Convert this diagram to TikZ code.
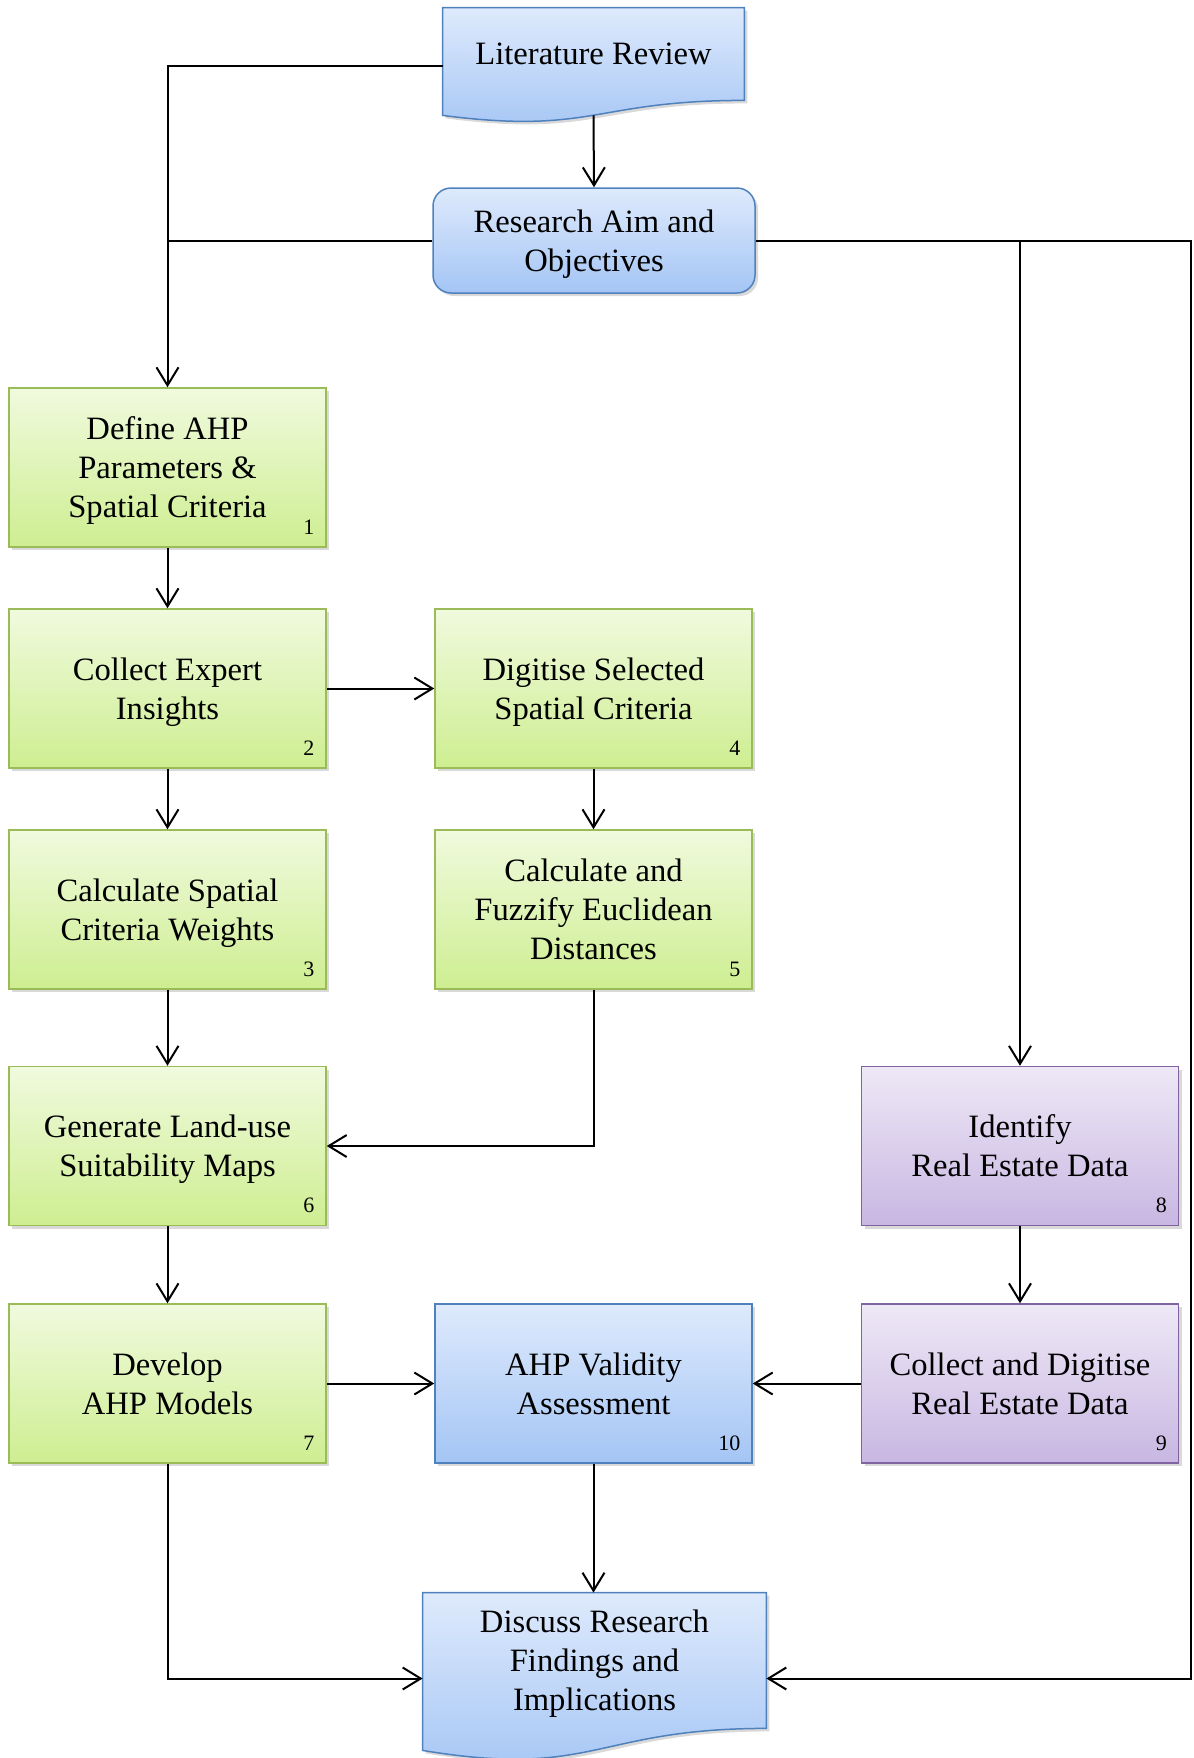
\documentclass[tikz,border=0pt]{standalone}
\usepackage{fontspec}
\setmainfont{Liberation Serif}
\usetikzlibrary{arrows.meta,shadows,backgrounds,calc}

\definecolor{greenline}{RGB}{155,187,89}
\definecolor{greentop}{RGB}{240,250,222}
\definecolor{greenbot}{RGB}{206,238,145}
\definecolor{blueline}{RGB}{79,129,189}
\definecolor{bluetop}{RGB}{222,234,252}
\definecolor{bluebot}{RGB}{164,197,245}
\definecolor{purpleline}{RGB}{128,100,162}
\definecolor{purpletop}{RGB}{238,232,246}
\definecolor{purplebot}{RGB}{200,183,226}

\tikzset{
	boxtext/.style={align=center, inner sep=0pt, text depth=0pt, font=\fontsize{16.3}{19.5}\selectfont},
	shade/.style={line width=0.75pt, drop shadow={shadow xshift=1.5pt, shadow yshift=-1.5pt, opacity=0.3}},
	box/.style={rectangle, boxtext, shade, draw, minimum width=158.5pt, minimum height=79.5pt},
	greenbox/.style={box, draw=greenline, top color=greentop, bottom color=greenbot},
	bluebox/.style={box, draw=blueline, top color=bluetop, bottom color=bluebot},
	purplebox/.style={box, draw=purpleline, top color=purpletop, bottom color=purplebot},
	bluewave/.style={shade, draw=blueline, top color=bluetop, bottom color=bluebot},
	numlabel/.style={anchor=south east, inner sep=0pt, xshift=-6pt, yshift=6.5pt, font=\fontsize{11}{13}\selectfont},
	link/.style={line width=1pt, -{Straight Barb[length=9pt,width=11pt]}},
	plain/.style={line width=1pt}
}

% wavy bottom of a document shape: node, drop at the left end
\newcommand{\docwave}[2]{%
	\path[bluewave] (#1.north west) -- (#1.north east) -- (#1.south east)
		.. controls (#1.south) and ($(#1.south)+(0,#2*2.3)$) .. ($(#1.south west)+(0,#2)$) -- cycle;}

\begin{document}
\begin{tikzpicture}[x=0.5pt,y=-0.5pt]
	\useasboundingbox (0,0) rectangle (1194,1758);

	% documents and aim
	\node (lit) [boxtext, minimum width=150.5pt, minimum height=46pt] at (593.5,54) {Literature Review};
	\node (disc) [boxtext, minimum width=171.5pt, minimum height=67.5pt] at (594.5,1660.5) {Discuss Research\\Findings and\\Implications};
	\begin{scope}[on background layer]
		\docwave{lit}{15}
		\docwave{disc}{22}
	\end{scope}
	\node (res) [bluebox, rounded corners=9pt, minimum width=161pt, minimum height=52.5pt] at (594,240.5) {Research Aim and\\Objectives};

	% steps
	\node (b1) [greenbox, label={[numlabel]south east:1}] at (167.5,467.5) {Define AHP\\Parameters \&\\Spatial Criteria};
	\node (b2) [greenbox, label={[numlabel]south east:2}] at (167.5,688.5) {Collect Expert\\Insights};
	\node (b3) [greenbox, label={[numlabel]south east:3}] at (167.5,909.5) {Calculate Spatial\\Criteria Weights};
	\node (b4) [greenbox, label={[numlabel]south east:4}] at (593.5,688.5) {Digitise Selected\\Spatial Criteria};
	\node (b5) [greenbox, label={[numlabel]south east:5}] at (593.5,909.5) {Calculate and\\Fuzzify Euclidean\\Distances};
	\node (b6) [greenbox, label={[numlabel]south east:6}] at (167.5,1146) {Generate Land-use\\Suitability Maps};
	\node (b7) [greenbox, label={[numlabel]south east:7}] at (167.5,1383.5) {Develop\\AHP Models};
	\node (b8) [purplebox, label={[numlabel]south east:8}] at (1020,1146) {Identify\\Real Estate Data};
	\node (b9) [purplebox, label={[numlabel]south east:9}] at (1020,1383.5) {Collect and Digitise\\Real Estate Data};
	\node (b10) [bluebox, label={[numlabel]south east:10}] at (593.5,1383.5) {AHP Validity\\Assessment};

	\coordinate (rim) at (1191,240.5);

	% connectors
	\draw[link] ($(lit.south)+(0,15)$) -- (res.north);
	\draw[link] ($(lit.west)+(0,12)$) -| (b1.north);
	\draw[plain] (res.west) -- (res.west -| b1.north);
	\draw[link] (res.east) -| (b8.north);
	\draw[link] (res.east) -- (rim) |- ($(disc.east)+(0,18)$);
	\draw[link] (b1) -- (b2);
	\draw[link] (b2) -- (b3);
	\draw[link] (b2) -- (b4);
	\draw[link] (b4) -- (b5);
	\draw[link] (b3) -- (b6);
	\draw[link] (b5.south) |- (b6.east);
	\draw[link] (b6) -- (b7);
	\draw[link] (b7) -- (b10);
	\draw[link] (b8) -- (b9);
	\draw[link] (b9) -- (b10);
	\draw[link] (b10.south) -- (b10.south |- disc.north);
	\draw[link] (b7.south) |- ($(disc.west)+(0,18)$);
\end{tikzpicture}
\end{document}
